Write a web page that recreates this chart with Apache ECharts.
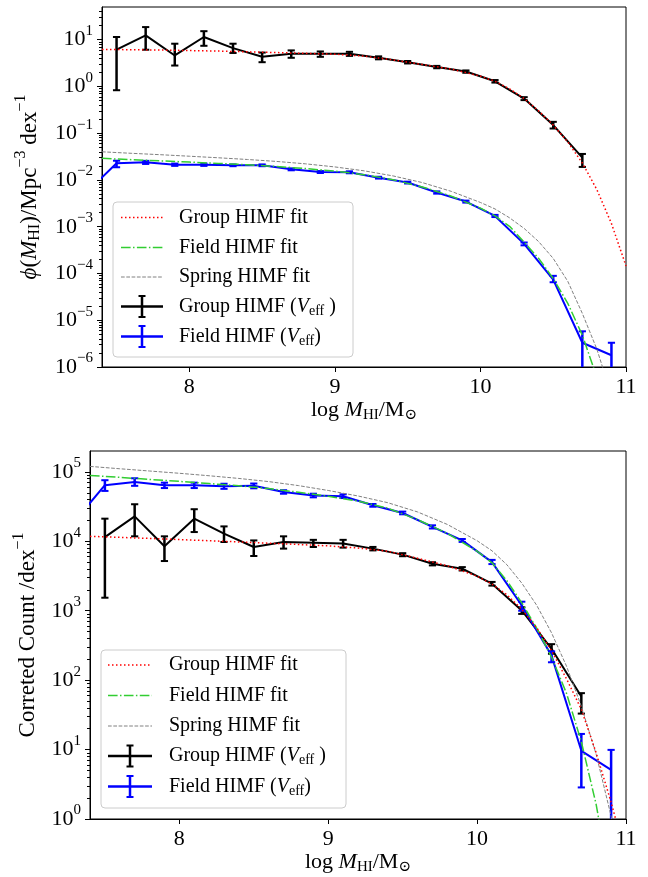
<!DOCTYPE html>
<html><head><meta charset="utf-8">
<script src="https://cdn.jsdelivr.net/npm/echarts@6/dist/echarts.min.js"></script>
<style>html,body{margin:0;padding:0;background:#fff}#c{width:648px;height:877px}</style>
</head><body><div id="c"></div>
<script>
// ---------------- data ----------------
const xGroup = [7.5,7.7,7.9,8.1,8.3,8.5,8.7,8.9,9.1,9.3,9.5,9.7,9.9,10.1,10.3,10.5,10.7];
const xField = [7.3,7.5,7.7,7.9,8.1,8.3,8.5,8.7,8.9,9.1,9.3,9.5,9.7,9.9,10.1,10.3,10.5,10.7,10.9];
const xFit   = [7.4,7.6,7.8,8.0,8.2,8.4,8.6,8.8,9.0,9.2,9.4,9.6,9.8,10.0,10.1,10.2,10.3,10.4,10.5,10.6,10.7,10.8,10.9,11.0];

// top panel: phi
const groupPhi   = [6.1,12.4,4.6,11.4,6.6,4.3,5.0,5.0,5.0,4.1,3.3,2.6,2.08,1.29,0.55,0.149,0.030];
const groupPhiLo = [0.83,6.1,2.8,7.4,5.2,3.3,4.1,4.3,4.5,3.8,3.1,2.45,1.96,1.21,0.51,0.126,0.019];
const groupPhiHi = [11.4,18.6,8.2,15.2,8.2,5.3,5.9,5.6,5.5,4.4,3.5,2.75,2.2,1.37,0.59,0.175,0.036];
const fieldPhi   = [0.0057,0.0227,0.0238,0.0212,0.0212,0.0206,0.0206,0.0169,0.0148,0.0146,0.0112,0.0088,0.0054,0.00345,0.0017,0.00043,0.000074,0.0000033,0.00000178];
const fieldPhiLo = [null,0.0187,0.0220,0.0200,0.0200,0.0197,0.0197,0.0161,0.0141,0.0139,0.0107,0.0084,0.0051,0.00328,0.00161,0.00040,0.000065,0,0];
const fieldPhiHi = [null,0.0258,0.0256,0.0224,0.0224,0.0215,0.0215,0.0177,0.0155,0.0153,0.0117,0.0092,0.0057,0.00362,0.00179,0.00046,0.000089,0.0000058,0.0000033];
const groupFitPhi  = [6.2,6.1,6.0,5.85,5.7,5.5,5.3,5.1,4.9,4.45,3.7,2.95,2.35,1.66,1.29,0.89,0.55,0.30,0.149,0.065,0.023,0.0062,0.00117,0.000145];
const fieldFitPhi  = [0.029,0.0272,0.0256,0.0241,0.0226,0.0211,0.0194,0.0175,0.0155,0.013,0.0101,0.0071,0.0045,0.0025,0.0017,0.00102,0.00047,0.00021,0.000078,0.000023,0.0000048,0.0000006,null,null];
const springFitPhi = [0.040,0.0372,0.0347,0.0322,0.0298,0.0274,0.0249,0.0221,0.0190,0.0157,0.0122,0.0088,0.0057,0.0033,0.0024,0.00155,0.00092,0.00048,0.00021,0.000068,0.000014,0.0000024,0.00000025,null];

// bottom panel: corrected counts
const groupCnt   = [11500,22900,8470,21200,12900,8280,9770,9570,9270,7850,6430,4760,4040,2450,1010,283,58];
const groupCntLo = [1540,11800,5200,13600,9770,6140,7850,8280,8110,7400,6100,4500,3800,2300,900,240,33];
const groupCntHi = [21200,34200,11800,29000,16400,10300,11800,10500,10500,8300,6750,5000,4250,2600,1120,330,65];
const fieldCnt   = [19800,64300,71800,64300,64300,62200,63000,51400,45600,44600,33000,25600,16100,10300,5020,1190,226,9.6,5.1];
const fieldCntLo = [null,53200,63000,58500,58500,57000,58000,48500,43000,42000,31500,24500,15300,9800,4700,1000,181,2.85,0];
const fieldCntHi = [null,75900,81000,70000,70000,67500,68000,54500,48500,47500,34500,26800,17000,10800,5400,1350,260,16.8,9.9];
const groupFitCnt  = [11800,11400,11000,10600,10200,9800,9400,9000,8600,8000,7200,5700,4450,3150,2420,1700,1050,570,265,105,38,8.9,1.74,0.28];
const fieldFitCnt  = [89000,83500,78000,73000,68000,63000,57500,51000,44500,38000,30000,20500,13000,7200,4900,2700,1300,560,215,65,13,1.6,0.1,null];
const springFitCnt = [120000,111000,103000,95500,88000,80500,72500,63500,54000,45000,36000,26500,17500,10200,7300,4600,2500,1200,480,160,42,8.5,1.1,0.08];

// ticks
const xTicks = [8,9,10,11];
const topYTicks = [1e-6,1e-5,1e-4,1e-3,1e-2,1e-1,1,10];
const botYTicks = [1,10,100,1000,10000,100000];
const minorMult = [2,3,4,5,6,7,8,9];

const legendNames = ['Group HIMF fit','Field HIMF fit','Spring HIMF fit','Group HIMF (','Field HIMF ('];

// ---------------- styles ----------------
const FF = '"Liberation Serif", "DejaVu Serif", serif';
function rich(size){
  return {
    r:{fontFamily:FF,fontSize:size,color:'#000'},
    i:{fontFamily:FF,fontSize:size,fontStyle:'italic',color:'#000'},
    sub:{fontFamily:FF,fontSize:Math.round(size*0.7),padding:[Math.round(size*0.45),0,0,0],color:'#000'},
    sup:{fontFamily:FF,fontSize:Math.round(size*0.7),padding:[0,0,Math.round(size*0.75),0],color:'#000'}
  };
}
function minorTicks(lo, hi){
  const out=[];
  for(let d=lo; d<hi; d++){ for(const m of minorMult){ out.push(m*Math.pow(10,d)); } }
  return out;
}
function powLabel(v){
  const e=Math.round(Math.log10(v));
  return '{r|10}{sup|'+(e<0?'\u2212'+(-e):e)+'}';
}
const pairs=(xs,ys)=>xs.map((x,i)=>[x,ys[i]]);
const errData=(xs,lo,hi)=>xs.map((x,i)=>[x,lo[i],hi[i]]).filter(d=>d[1]!==null);

const RED='#ff0000', GREEN='#32cd32', GREY='#808080', BLUE='#0000ff', BLACK='#000000';
const DOT=[1.5,2.5], DASHDOT=[9.6,2.4,1.5,2.4], DASH=[3.7,1.6];

function errRender(color){
  return function(params, api){
    const x=api.value(0), lo=api.value(1), hi=api.value(2);
    const cs=params.coordSys;
    const top=cs.y, bot=cs.y+cs.height;
    const pH=api.coord([x,hi]);
    const cx=pH[0];
    if(cx<cs.x-1||cx>cs.x+cs.width+1) return;
    const yHi=pH[1];
    const yLo=lo>0?api.coord([x,lo])[1]:bot+100;
    const y1=Math.max(yHi,top), y2=Math.min(yLo,bot);
    const ch=[{type:'line',shape:{x1:cx,y1:y1,x2:cx,y2:y2},style:{stroke:color,lineWidth:2.5}}];
    const cw=3.6;
    if(yHi>=top) ch.push({type:'line',shape:{x1:cx-cw,y1:yHi,x2:cx+cw,y2:yHi},style:{stroke:color,lineWidth:2}});
    if(yLo<=bot) ch.push({type:'line',shape:{x1:cx-cw,y1:yLo,x2:cx+cw,y2:yLo},style:{stroke:color,lineWidth:2}});
    return {type:'group',children:ch};
  };
}

function panelSeries(xi, yi, gY, gLo, gHi, fY, fLo, fHi, fitG, fitF, fitS){
  const ax={xAxisIndex:xi,yAxisIndex:yi};
  return [
    Object.assign({type:'line',data:pairs(xGroup,gY),showSymbol:false,lineStyle:{color:BLACK,width:2},z:2,silent:true},ax),
    Object.assign({type:'line',data:pairs(xField,fY),showSymbol:false,lineStyle:{color:BLUE,width:2},z:2,silent:true},ax),
    Object.assign({type:'custom',data:errData(xGroup,gLo,gHi),renderItem:errRender(BLACK),encode:{x:0,y:2},z:3,silent:true},ax),
    Object.assign({type:'custom',data:errData(xField,fLo,fHi),renderItem:errRender(BLUE),encode:{x:0,y:2},z:3,silent:true},ax),
    Object.assign({type:'line',data:pairs(xFit,fitS),showSymbol:false,lineStyle:{color:GREY,width:1,type:DASH},z:4,silent:true},ax),
    Object.assign({type:'line',data:pairs(xFit,fitF),showSymbol:false,lineStyle:{color:GREEN,width:1.5,type:DASHDOT},z:4,silent:true},ax),
    Object.assign({type:'line',data:pairs(xFit,fitG),showSymbol:false,lineStyle:{color:RED,width:1.5,type:DOT},z:4,silent:true},ax)
  ];
}

const xTitle='{r|log }{i|M}{sub|HI}{r|/M}{sub|\u2299}';
function xAxis(gi){
  return {type:'value',gridIndex:gi,min:7.4,max:11,
    axisLine:{lineStyle:{color:'#000',width:1}},
    axisTick:{customValues:xTicks,length:5,lineStyle:{color:'#000',width:1}},
    axisLabel:{customValues:xTicks,margin:9,fontFamily:FF,fontSize:22,color:'#000'},
    splitLine:{show:false},
    name:xTitle,nameLocation:'middle',nameGap:gi===0?26:25,
    nameTextStyle:{rich:rich(22)}};
}
function yAxis(gi,min,max,ticks,minors,name,gap){
  return [{type:'log',logBase:10,gridIndex:gi,min:min,max:max,position:'left',
    axisLine:{show:true,lineStyle:{color:'#000',width:1}},
    axisTick:{customValues:ticks,length:5,lineStyle:{color:'#000',width:1}},
    axisLabel:{customValues:ticks,margin:9,formatter:powLabel,rich:rich(22)},
    splitLine:{show:false},minorTick:{show:false},
    name:name,nameLocation:'middle',nameGap:gap,nameTextStyle:{rich:rich(23)}},
   {type:'log',logBase:10,gridIndex:gi,min:min,max:max,position:'left',
    axisLine:{show:false},
    axisTick:{show:true,customValues:minors,length:3,lineStyle:{color:'#000',width:1}},
    axisLabel:{show:false},splitLine:{show:false}}];
}

// ---------------- legend (graphic) ----------------
function legendGraphic(bx,by,bw,bh,rows,lx1,lx2,tx){
  const els=[{type:'rect',shape:{x:bx,y:by,width:bw,height:bh,r:4},style:{fill:'rgba(255,255,255,0.8)',stroke:'#cccccc',lineWidth:1},z:100}];
  const lineDefs=[[RED,1.5,DOT],[GREEN,1.5,DASHDOT],[GREY,1,DASH]];
  lineDefs.forEach((d,k)=>{
    els.push({type:'line',shape:{x1:lx1,y1:rows[k],x2:lx2,y2:rows[k]},style:{stroke:d[0],lineWidth:d[1],lineDash:d[2]},z:101});
  });
  [[BLACK,3],[BLUE,4]].forEach(d=>{
    const y=rows[d[1]], cx=(lx1+lx2)/2;
    els.push({type:'line',shape:{x1:lx1,y1:y,x2:lx2,y2:y},style:{stroke:d[0],lineWidth:2.5},z:101});
    els.push({type:'line',shape:{x1:cx,y1:y-10.5,x2:cx,y2:y+10.5},style:{stroke:d[0],lineWidth:2.5},z:101});
    els.push({type:'line',shape:{x1:cx-3.5,y1:y-10.5,x2:cx+3.5,y2:y-10.5},style:{stroke:d[0],lineWidth:2},z:101});
    els.push({type:'line',shape:{x1:cx-3.5,y1:y+10.5,x2:cx+3.5,y2:y+10.5},style:{stroke:d[0],lineWidth:2},z:101});
  });
  const texts=[
    '{r|'+legendNames[0]+'}','{r|'+legendNames[1]+'}','{r|'+legendNames[2]+'}',
    '{r|'+legendNames[3]+'}{i|V}{sub|eff}{r| )}',
    '{r|'+legendNames[4]+'}{i|V}{sub|eff}{r|)}'];
  texts.forEach((t,k)=>{
    els.push({type:'text',x:tx,y:rows[k],style:{text:t,rich:rich(20),verticalAlign:'middle',align:'left'},z:102});
  });
  return els;
}

const option={
  animation:false,
  backgroundColor:'#fff',
  grid:[
    {left:102,right:22,top:7,height:360,show:true,borderColor:'#000',borderWidth:1,backgroundColor:'transparent'},
    {left:90,right:22,top:451,height:368,show:true,borderColor:'#000',borderWidth:1,backgroundColor:'transparent'}
  ],
  xAxis:[xAxis(0),xAxis(1)],
  yAxis:[]
    .concat(yAxis(0,1e-6,50,topYTicks,minorTicks(-6,2).filter(v=>v<50),
      '{i|\u03d5}{r|(}{i|M}{sub|HI}{r|)/Mpc}{sup|\u22123}{r| dex}{sup|\u22121}',56))
    .concat(yAxis(1,1,2e5,botYTicks,minorTicks(0,6).filter(v=>v<2e5),
      '{r|Correted Count /dex}{sup|\u22121}',46)),
  series:[]
    .concat(panelSeries(0,0,groupPhi,groupPhiLo,groupPhiHi,fieldPhi,fieldPhiLo,fieldPhiHi,groupFitPhi,fieldFitPhi,springFitPhi))
    .concat(panelSeries(1,2,groupCnt,groupCntLo,groupCntHi,fieldCnt,fieldCntLo,fieldCntHi,groupFitCnt,fieldFitCnt,springFitCnt)),
  graphic:[]
    .concat(legendGraphic(113,202,240,155,[217.5,247.5,277,306.5,336.5],121,163,179))
    .concat(legendGraphic(101,650,245,158,[665,695.5,726,756,786.5],108,152,169))
};
const chart=echarts.init(document.getElementById('c'),null,{renderer:'canvas'});
chart.setOption(option);
</script></body></html>
